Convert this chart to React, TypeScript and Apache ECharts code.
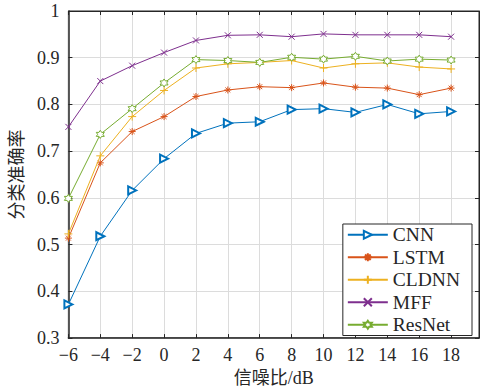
import React, { useEffect, useRef } from "react";
import * as echarts from "echarts";

const snr = [-6, -4, -2, 0, 2, 4, 6, 8, 10, 12, 14, 16, 18];
const cnn = [0.372, 0.518, 0.616, 0.684, 0.738, 0.760, 0.763, 0.789, 0.791, 0.783, 0.800, 0.780, 0.785];
const lstm = [0.514, 0.675, 0.742, 0.774, 0.817, 0.831, 0.838, 0.836, 0.846, 0.837, 0.835, 0.821, 0.835];
const cldnn = [0.523, 0.690, 0.774, 0.830, 0.878, 0.887, 0.890, 0.894, 0.878, 0.887, 0.889, 0.880, 0.876];
const mff = [0.752, 0.850, 0.883, 0.911, 0.937, 0.948, 0.949, 0.945, 0.951, 0.949, 0.949, 0.949, 0.945];
const resnet = [0.599, 0.736, 0.791, 0.846, 0.896, 0.894, 0.890, 0.901, 0.897, 0.903, 0.893, 0.897, 0.895];
const seriesNames = ["CNN", "LSTM", "CLDNN", "MFF", "ResNet"];
const colors = ["#0072BD", "#D95319", "#EDB120", "#7E2F8E", "#77AC30"];

const FONT = "'Liberation Serif', 'Times New Roman', 'Noto Sans CJK SC', serif";

const ASTERISK = "path://M5 0 L5 10 M0 5 L10 5 M1.5 1.5 L8.5 8.5 M8.5 1.5 L1.5 8.5";
const PLUS = "path://M5 0 L5 10 M0 5 L10 5";
const CROSS = "path://M0 0 L10 10 M10 0 L0 10";
const HEXAGRAM =
  "path://M5 0 L6.44 2.5 L9.33 2.5 L7.89 5 L9.33 7.5 L6.44 7.5 L5 10 L3.56 7.5 L0.67 7.5 L2.11 5 L0.67 2.5 L3.56 2.5 Z";

function pairs(vals: number[]) {
  return snr.map((x, i) => [x, vals[i]]);
}

const minus = (v: number) => String(v).replace("-", "\u2212");

export default function App() {
  const ref = useRef<HTMLDivElement>(null);
  useEffect(() => {
    if (!ref.current) return;
    const chart = echarts.init(ref.current, undefined, { renderer: "svg" });
    const axisColor = "#262626";
    const mk = (
      idx: number,
      data: number[],
      symbol: string,
      size: number,
      extra: any = {}
    ) => ({
      name: seriesNames[idx],
      type: "line",
      data: pairs(data),
      symbol,
      symbolSize: size,
      lineStyle: { color: colors[idx], width: 1 },
      itemStyle: { color: colors[idx], borderColor: colors[idx], borderWidth: 1, ...(extra.itemStyle || {}) },
      symbolRotate: extra.symbolRotate,
      z: 3 + idx,
    });
    chart.setOption({
      animation: false,
      backgroundColor: "#fff",
      grid: {
        left: 66,
        right: 1,
        top: 11,
        bottom: 52,
        show: true,
        borderColor: axisColor,
        borderWidth: 1,
        backgroundColor: "transparent",
      },
      legend: {
        orient: "vertical",
        right: 8,
        top: 224,
        data: seriesNames,
        itemWidth: 40,
        itemHeight: 10,
        itemGap: 3,
        padding: [1, 12, 1, 4],
        borderColor: axisColor,
        borderWidth: 1,
        backgroundColor: "#fff",
        textStyle: { fontFamily: FONT, fontSize: 19.5, color: "#262626", lineHeight: 18 },
      },
      xAxis: [
        {
          type: "value",
          min: -6,
          max: 19.75,
          interval: 2,
          name: "信噪比/dB",
          nameLocation: "middle",
          nameGap: 28,
          nameTextStyle: { fontFamily: FONT, fontSize: 18, color: "#262626" },
          axisLine: { show: true, onZero: false, lineStyle: { color: axisColor, width: 1.5 } },
          axisTick: { show: true, inside: true, length: 4, lineStyle: { color: axisColor } },
          axisLabel: {
            fontFamily: FONT,
            fontSize: 18,
            color: "#262626",
            margin: 8,
            showMaxLabel: false,
            formatter: (v: number) => (v > 18 ? "" : minus(v)),
          },
          splitLine: { show: true, lineStyle: { color: "#dcdcdc", width: 1 } },
        },
        {
          type: "value",
          position: "top",
          min: -6,
          max: 19.75,
          interval: 2,
          axisLine: { show: true, onZero: false, lineStyle: { color: axisColor, width: 1 } },
          axisTick: { show: true, inside: true, length: 4, lineStyle: { color: axisColor } },
          axisLabel: { show: false },
          splitLine: { show: false },
        },
      ],
      yAxis: [
        {
          type: "value",
          min: 0.3,
          max: 1,
          interval: 0.1,
          name: "分类准确率",
          nameLocation: "middle",
          nameGap: 38,
          nameTextStyle: { fontFamily: FONT, fontSize: 18, color: "#262626" },
          axisLine: { show: true, onZero: false, lineStyle: { color: axisColor, width: 1.5 } },
          axisTick: { show: true, inside: true, length: 4, lineStyle: { color: axisColor } },
          axisLabel: {
            fontFamily: FONT,
            fontSize: 18,
            color: "#262626",
            margin: 9,
            formatter: (v: number) => String(Math.round(v * 10) / 10),
          },
          splitLine: { show: true, lineStyle: { color: "#dcdcdc", width: 1 } },
        },
        {
          type: "value",
          position: "right",
          min: 0.3,
          max: 1,
          interval: 0.1,
          axisLine: { show: true, onZero: false, lineStyle: { color: axisColor, width: 1 } },
          axisTick: { show: true, inside: true, length: 4, lineStyle: { color: axisColor } },
          axisLabel: { show: false },
          splitLine: { show: false },
        },
      ],
      series: [
        mk(0, cnn, "emptyTriangle", 8, { symbolRotate: -90 }),
        mk(1, lstm, ASTERISK, 7),
        mk(2, cldnn, PLUS, 8),
        mk(3, mff, CROSS, 6),
        mk(4, resnet, HEXAGRAM, 8, { itemStyle: { color: "#fff" } }),
      ],
    });
    return () => chart.dispose();
  }, []);
  return (
    <div
      ref={ref}
      style={{ position: "fixed", left: 0, top: 0, width: 480, height: 392, background: "#fff" }}
    />
  );
}
